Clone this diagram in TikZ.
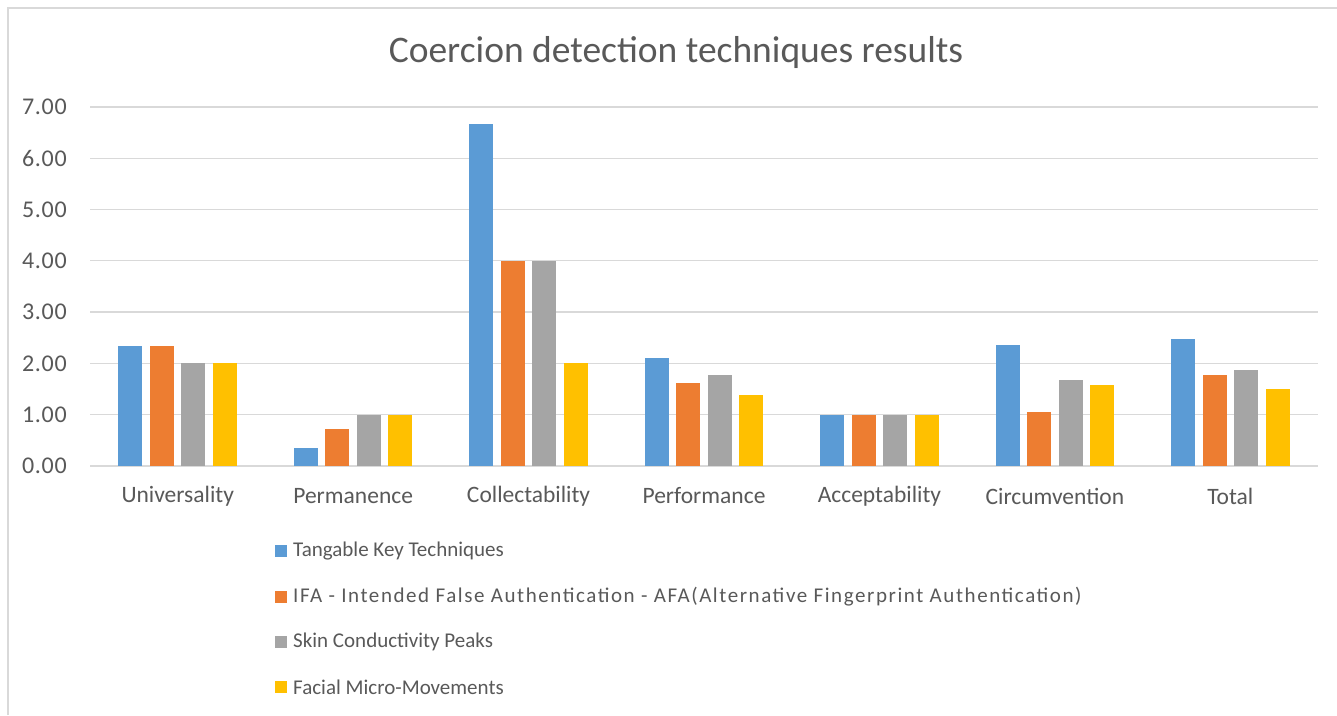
\documentclass[tikz,border=0pt]{standalone}
\usepackage{fontspec}
\setmainfont{Carlito}
\definecolor{serA}{HTML}{5B9BD5}
\definecolor{serB}{HTML}{ED7D31}
\definecolor{serC}{HTML}{A5A5A5}
\definecolor{serD}{HTML}{FFC000}
\definecolor{gridgray}{HTML}{D9D9D9}
\definecolor{txtgray}{HTML}{595959}
\tikzset{
  framestyle/.style={draw=gridgray, line width=1.5pt},
  gridstyle/.style={draw=gridgray, line width=1.3pt},
  ticklab/.style={text=txtgray, font=\fontsize{24}{28}\selectfont\addfontfeature{LetterSpace=3}, inner sep=0pt, anchor=east},
  catlab/.style={text=txtgray, font=\fontsize{23.5}{28}\selectfont, inner sep=0pt},
  titlelab/.style={text=txtgray, font=\fontsize{37.5}{44}\selectfont, inner sep=0pt},
  leglab/.style={text=txtgray, font=\fontsize{21}{25}\selectfont, inner sep=0pt, anchor=west},
  legkey/.style={minimum size=12pt, inner sep=0pt, draw=none},
}
\begin{document}
\begin{tikzpicture}[x=1pt, y=-1pt]
\useasboundingbox (0,0) rectangle (1337,715);
\fill[white] (0,0) rectangle (1337,715);
% chart frame (top and left edges only)
\draw[framestyle] (8,715) -- (8,8) -- (1337,8);
% title
\node[titlelab] (title) at (676,53) {Coercion detection techniques results};
% value axis: gridlines and tick labels
\foreach \v in {0,...,7} {
  \pgfmathsetmacro\yy{466-51.3*\v}
  \draw[gridstyle] (90,\yy) -- (1318,\yy);
  \node[ticklab] (tick\v) at (67,\yy) {\v.00};
}
% clustered bars, one group per category
\foreach \cat/\va/\vb/\vc/\vd [count=\i from 0] in {
  Universality/2.33/2.33/2.00/2.00,
  Permanence/0.36/0.72/1.00/1.00,
  Collectability/6.67/4.00/4.00/2.00,
  Performance/2.11/1.61/1.77/1.38,
  Acceptability/1.00/1.00/1.00/1.00,
  Circumvention/2.35/1.06/1.68/1.57,
  Total/2.47/1.77/1.88/1.50} {
  \pgfmathsetmacro\cx{90+175.43*(\i+0.5)}
  \fill[serA] ({\cx-59.25},466) rectangle ({\cx-35.25},{466-51.3*\va});
  \fill[serB] ({\cx-27.75},466) rectangle ({\cx-3.75},{466-51.3*\vb});
  \fill[serC] ({\cx+3.75},466) rectangle ({\cx+27.75},{466-51.3*\vc});
  \fill[serD] ({\cx+35.25},466) rectangle ({\cx+59.25},{466-51.3*\vd});
  \node[catlab] (cat\i) at (\cx,496) {\cat};
}
% legend
\node[legkey, fill=serA] (keyA) at (280.5,551) {};
\node[legkey, fill=serB] (keyB) at (280.5,597) {};
\node[legkey, fill=serC] (keyC) at (280.5,642) {};
\node[legkey, fill=serD] (keyD) at (280.5,687) {};
\node[leglab] (legA) at (293,551) {Tangable Key Techniques};
\node[leglab, font=\fontsize{21}{25}\selectfont\addfontfeature{LetterSpace=7.5}] (legB) at (293,597) {IFA - Intended False Authentication - AFA(Alternative Fingerprint Authentication)};
\node[leglab] (legC) at (293,642) {Skin Conductivity Peaks};
\node[leglab] (legD) at (293,687) {Facial Micro-Movements};
\end{tikzpicture}
\end{document}
